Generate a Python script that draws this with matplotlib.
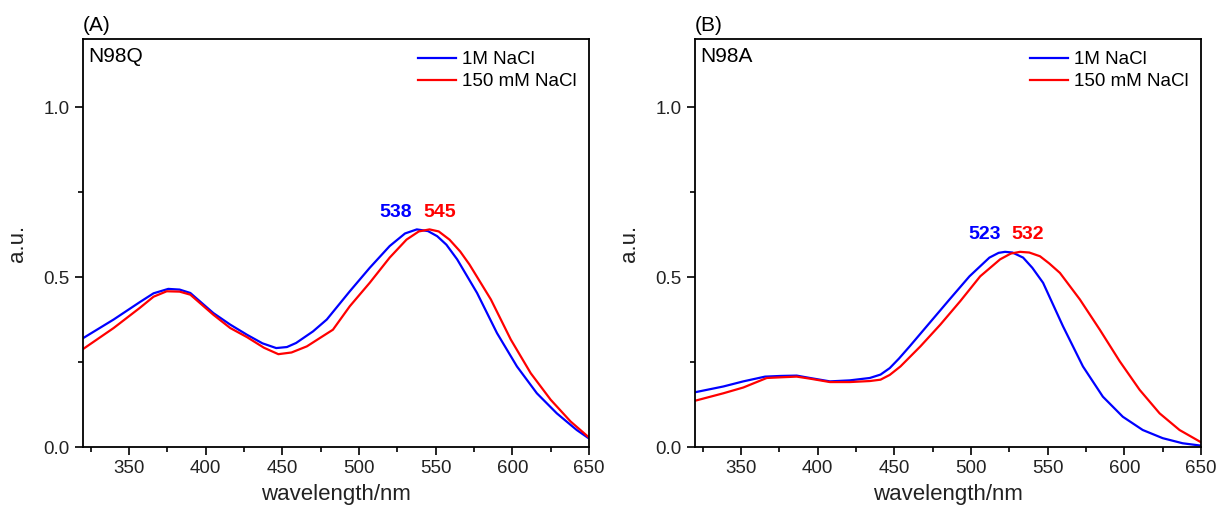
import matplotlib
matplotlib.use("Agg")
import matplotlib.pyplot as plt
from matplotlib.ticker import MultipleLocator

plt.rcParams["font.family"] = ["Liberation Sans", "DejaVu Sans"]

# panel A: N98Q
a_blue_nm = [320, 340, 357, 366, 375.6, 383, 390, 405, 416, 427, 437, 446, 453, 459, 470, 479,
             494, 507, 520, 530, 537.7, 545, 551, 557, 564, 577, 590, 603, 616, 629, 642, 650]
a_blue = [0.32, 0.375, 0.426, 0.452, 0.465, 0.463, 0.453, 0.394, 0.36, 0.33, 0.305, 0.291, 0.294,
          0.306, 0.34, 0.375, 0.458, 0.527, 0.591, 0.628, 0.64, 0.635, 0.62, 0.595, 0.552, 0.453,
          0.335, 0.237, 0.158, 0.099, 0.05, 0.025]
a_red_nm = [320, 340, 357, 366, 374.6, 383, 390, 405, 416, 427, 438, 447.4, 456, 466, 475, 483,
            494, 507, 520, 531, 539, 546, 552, 559, 566, 572, 586, 599, 612, 625, 638, 650]
a_red = [0.288, 0.35, 0.409, 0.442, 0.458, 0.457, 0.448, 0.389, 0.35, 0.323, 0.292, 0.273, 0.278,
         0.296, 0.322, 0.345, 0.414, 0.483, 0.557, 0.61, 0.634, 0.64, 0.634, 0.61, 0.575, 0.537,
         0.434, 0.316, 0.217, 0.139, 0.075, 0.028]

# panel B: N98A
b_blue_nm = [320, 338.5, 351.5, 365.7, 376, 386.3, 395, 408, 421, 434, 441, 447, 453, 460, 473,
             486, 499, 512, 518, 522.2, 527, 534, 540, 547, 560, 573, 586, 599, 612, 625, 638, 650]
b_blue = [0.161, 0.178, 0.193, 0.207, 0.209, 0.21, 0.203, 0.193, 0.196, 0.203, 0.213, 0.232,
          0.26, 0.296, 0.365, 0.434, 0.502, 0.557, 0.571, 0.574, 0.572, 0.557, 0.527, 0.483,
          0.355, 0.237, 0.148, 0.089, 0.05, 0.026, 0.011, 0.004]
b_red_nm = [320, 338.5, 351.5, 366.8, 376, 386.3, 395, 408, 421, 434, 441, 447, 454, 467, 480,
            493, 506, 519, 526, 532, 538, 545, 551, 558, 571, 584, 597, 610, 623, 636, 650]
b_red = [0.136, 0.158, 0.175, 0.203, 0.205, 0.207, 0.201, 0.191, 0.191, 0.194, 0.198, 0.212,
         0.237, 0.296, 0.36, 0.429, 0.502, 0.552, 0.569, 0.574, 0.572, 0.561, 0.54, 0.512,
         0.434, 0.345, 0.252, 0.168, 0.099, 0.05, 0.014]

panels = [
    ("(A)", "N98Q", a_blue_nm, a_blue, a_red_nm, a_red, ("538", "545"), (524.2, 552.9), 0.69),
    ("(B)", "N98A", b_blue_nm, b_blue, b_red_nm, b_red, ("523", "532"), (509.2, 537.2), 0.625),
]
series_names = ["1M NaCl", "150 mM NaCl"]

fig = plt.figure(figsize=(12.17, 5.12), dpi=100)
lefts = [83 / 1217, 695 / 1217]

for left, (tag, name, bx, by, rx, ry, peaks, peak_x, peak_y) in zip(lefts, panels):
    ax = fig.add_axes([left, 65 / 512, 506 / 1217, 408 / 512])
    ax.plot(bx, by, color="#0000ff", lw=1.6, label=series_names[0])
    ax.plot(rx, ry, color="#ff0000", lw=1.6, label=series_names[1])
    ax.set_xlim(320, 650)
    ax.set_ylim(0, 1.2)
    ax.xaxis.set_major_locator(MultipleLocator(50))
    ax.xaxis.set_minor_locator(MultipleLocator(25))
    ax.yaxis.set_major_locator(MultipleLocator(0.5))
    ax.yaxis.set_minor_locator(MultipleLocator(0.25))
    ax.tick_params(which="major", direction="out", length=6, width=1.2, labelsize=13.5,
                   labelcolor="#222222", top=False, right=False)
    ax.tick_params(which="minor", direction="out", length=3.5, width=1.2, top=False, right=False)
    for sp in ax.spines.values():
        sp.set_linewidth(1.3)
    ax.set_xlabel("wavelength/nm", fontsize=16, labelpad=5, color="#222222")
    ax.set_ylabel("a.u.", fontsize=16, labelpad=11, color="#222222")
    ax.text(0.0, 1.01, tag, transform=ax.transAxes, fontsize=15, ha="left", va="bottom")
    ax.text(0.01, 0.98, name, transform=ax.transAxes, fontsize=15, ha="left", va="top")
    ax.text(peak_x[0], peak_y, peaks[0], color="#0000ff", fontsize=14, fontweight="bold",
            ha="center", va="center")
    ax.text(peak_x[1], peak_y, peaks[1], color="#ff0000", fontsize=14, fontweight="bold",
            ha="center", va="center")
    ax.legend(loc="upper right", frameon=False, fontsize=13.5, handlelength=2.0,
              handletextpad=0.35, labelspacing=0.25, borderaxespad=0.25)

fig.savefig("out.png", dpi=100, facecolor="white")
